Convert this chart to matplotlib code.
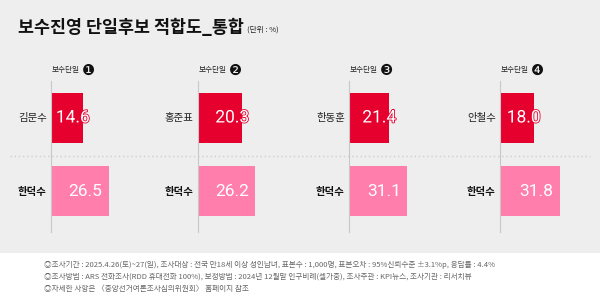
import matplotlib
matplotlib.use("Agg")
import matplotlib.pyplot as plt
from matplotlib.patches import Rectangle
from matplotlib.lines import Line2D
import matplotlib.patheffects as pe

plt.rcParams['font.family'] = ['Noto Sans CJK KR', 'DejaVu Sans']

# ---- data ----
title = "보수진영 단일후보 적합도_통합"
unit = "(단위 : %)"
panel_labels = ["보수단일", "보수단일", "보수단일", "보수단일"]
panel_marks = ["❶", "❷", "❸", "❹"]
candidates = ["김문수", "홍준표", "한동훈", "안철수"]
candidate_values = [14.6, 20.3, 21.4, 18.0]
opponent = "한덕수"
opponent_values = [26.5, 26.2, 31.1, 31.8]
panel_xmax = [45.9, 45.9, 53.2, 53.2]
footer_lines = [
    "◎조사기간 : 2025.4.26(토)~27(일), 조사대상 : 전국 만18세 이상 성인남녀, 표본수 : 1,000명, 표본오차 : 95%신뢰수준 ±3.1%p, 응답률 : 4.4%",
    "◎조사방법 : ARS 전화조사(RDD 휴대전화 100%), 보정방법 : 2024년 12월말 인구비례(셀가중), 조사주관 : KPI뉴스, 조사기관 : 리서치뷰",
    "◎자세한 사항은 〈중앙선거여론조사심의위원회〉 홈페이지 참조",
]

RED = "#e6002d"
PINK = "#ff7eab"
BG = "#efeeef"
W, H = 600, 300

fig = plt.figure(figsize=(6, 3), dpi=100, facecolor="white")

def fx(x):
    return x / W

def fy(y):
    return 1 - y / H

# grey background
fig.patches.append(Rectangle((0, fy(253)), 1, 1 - fy(253), transform=fig.transFigure,
                             facecolor=BG, edgecolor="none", zorder=-5))

# title
fig.text(fx(18), fy(28), title, fontsize=12.5, fontweight="bold", color="#111111",
         ha="left", va="center")
fig.text(fx(247), fy(30), unit, fontsize=5.5, color="#222222", ha="left", va="center")

# dotted separator
fig.lines.append(Line2D([fx(10), fx(590)], [fy(155.5), fy(155.5)], transform=fig.transFigure,
                        color="#cfcfcf", linewidth=1.0, linestyle=(0, (1, 2)), zorder=-1))

NUMFONT = ["Roboto", "Liberation Sans", "DejaVu Sans"]
axis_x = [51, 198, 349, 500]
top, bottom = 81, 232
for i in range(4):
    ax = fig.add_axes([fx(axis_x[i]), fy(bottom), fx(130), (bottom - top) / H])
    ax.patch.set_alpha(0)
    vals = [candidate_values[i], opponent_values[i]]
    cols = [RED, PINK]
    ax.barh([0, 1], vals, height=0.68, color=cols, zorder=2)
    ax.set_ylim(1.551, -0.503)
    ax.set_xlim(0, panel_xmax[i] * 130 / 100)
    for s in ["top", "right", "bottom"]:
        ax.spines[s].set_visible(False)
    ax.spines["left"].set_color("#c8c8c8")
    ax.spines["left"].set_linewidth(0.8)
    ax.set_xticks([])
    ax.set_yticks([])
    # category labels
    ax.annotate(candidates[i], xy=(0, 0), xytext=(-3, 0), textcoords="offset points",
                ha="right", va="center", fontsize=7.5, color="#222222", annotation_clip=False)
    ax.annotate(opponent, xy=(0, 1), xytext=(-3, 0), textcoords="offset points",
                ha="right", va="center", fontsize=7.5, fontweight="bold", color="#111111",
                annotation_clip=False)
    # values
    ax.annotate(f"{candidate_values[i]:.1f}", xy=(candidate_values[i], 0), xytext=(5, 0),
                textcoords="offset points", ha="right", va="center", fontsize=12.5,
                color="white", family=NUMFONT, zorder=3,
                path_effects=[pe.withStroke(linewidth=1.2, foreground=RED)])
    ax.annotate(f"{opponent_values[i]:.1f}", xy=(opponent_values[i], 1), xytext=(-4.5, 0),
                textcoords="offset points", ha="right", va="center", fontsize=12.5,
                color="white", family=NUMFONT, zorder=3)
    # panel header
    fig.text(fx(axis_x[i] + 1), fy(70), panel_labels[i], fontsize=5.5, color="#222222",
             ha="left", va="center")
    fig.text(fx(axis_x[i] + 30.5), fy(70), panel_marks[i], fontsize=10.5, color="#111111",
             ha="left", va="center", family=["DejaVu Sans"])

# footer
for k, line in enumerate(footer_lines):
    fig.text(fx(44), fy(265 + 12 * k), line, fontsize=5.5, color="#666666",
             ha="left", va="center")

fig.savefig("out.png", dpi=100, facecolor="white")
